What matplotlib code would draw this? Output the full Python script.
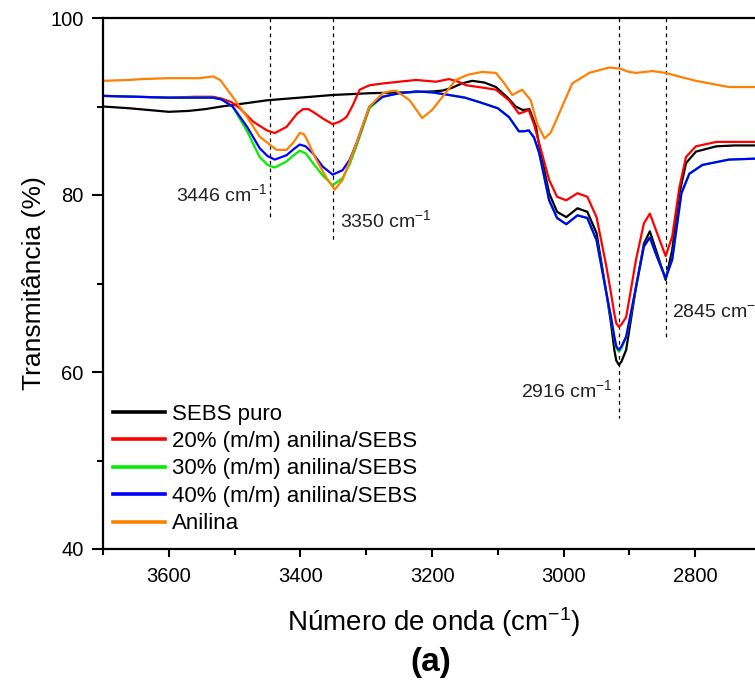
import matplotlib
matplotlib.use("Agg")
import matplotlib.pyplot as plt
from matplotlib.ticker import MultipleLocator

plt.rcParams['font.family'] = ['Liberation Sans', 'DejaVu Sans']
plt.rcParams['mathtext.default'] = 'regular'

# FTIR spectra: wavenumber (cm-1) and transmittance (%)
sebs_w = [3700, 3660, 3630, 3600, 3570, 3545, 3520, 3500, 3470, 3451, 3401, 3351, 3295, 3240,
          3200, 3184, 3170, 3155, 3139, 3120, 3103, 3085, 3073, 3062, 3052, 3042, 3037, 3022,
          3010, 2996, 2979, 2964, 2950, 2935, 2928, 2923, 2920, 2916, 2912, 2905, 2898, 2890,
          2878, 2869, 2858, 2845, 2835, 2824, 2814, 2799, 2768, 2740, 2711, 2690]
sebs_t = [90.0, 89.8, 89.6, 89.4, 89.5, 89.7, 90.0, 90.2, 90.5, 90.7, 91.0, 91.3, 91.5, 91.6,
          91.7, 91.8, 92.1, 92.6, 92.9, 92.7, 92.2, 91.0, 90.0, 89.6, 89.7, 87.7, 85.5, 80.2,
          78.1, 77.5, 78.5, 78.1, 75.7, 68.9, 65.5, 62.5, 61.3, 60.8, 61.2, 62.5, 65.8, 69.6,
          74.5, 75.9, 73.4, 70.4, 73.8, 80.2, 83.6, 84.9, 85.5, 85.6, 85.6, 85.6]

an20_w = [3700, 3650, 3600, 3560, 3533, 3520, 3505, 3492, 3472, 3451, 3439, 3421, 3405, 3396,
          3388, 3381, 3365, 3351, 3340, 3330, 3320, 3310, 3295, 3275, 3250, 3224, 3194, 3174,
          3160, 3148, 3120, 3103, 3083, 3068, 3060, 3053, 3045, 3037, 3022, 3010, 2996, 2979,
          2964, 2950, 2935, 2928, 2923, 2920, 2916, 2912, 2905, 2898, 2890, 2878, 2869, 2858,
          2845, 2835, 2824, 2814, 2799, 2768, 2711, 2690]
an20_t = [91.2, 91.1, 91.0, 91.1, 91.1, 90.9, 90.5, 89.8, 88.3, 87.3, 87.0, 87.7, 89.2, 89.7,
          89.7, 89.4, 88.6, 88.0, 88.3, 88.8, 90.2, 91.9, 92.4, 92.6, 92.8, 93.0, 92.8, 93.1,
          92.8, 92.4, 92.1, 91.9, 90.7, 89.2, 89.4, 89.6, 88.0, 85.8, 81.7, 79.8, 79.4, 80.2,
          79.8, 77.5, 71.9, 68.9, 66.6, 65.5, 65.1, 65.4, 66.2, 69.2, 72.7, 76.8, 77.9, 75.7,
          73.1, 75.3, 80.9, 84.3, 85.5, 86.0, 86.0, 86.0]

an30_w = [3700, 3650, 3600, 3560, 3533, 3520, 3503, 3481, 3462, 3450, 3439, 3421, 3410, 3401,
          3392, 3381, 3366, 3351, 3336, 3325, 3315, 3295, 3275, 3250, 3224, 3200, 3174, 3150,
          3124, 3100, 3083, 3068, 3060, 3053, 3045, 3037, 3022, 3010, 2996, 2979, 2964, 2950,
          2935, 2928, 2923, 2920, 2916, 2912, 2905, 2898, 2890, 2878, 2869, 2858, 2845, 2835,
          2821, 2809, 2789, 2749, 2711, 2690]
an30_t = [91.2, 91.1, 91.0, 91.0, 91.0, 90.8, 90.0, 87.2, 84.3, 83.4, 83.1, 83.8, 84.5, 85.0,
          84.7, 83.6, 82.2, 81.1, 81.9, 83.5, 85.5, 89.8, 91.1, 91.5, 91.7, 91.6, 91.3, 91.0,
          90.4, 89.8, 88.8, 87.2, 87.2, 87.3, 86.5, 84.7, 79.4, 77.4, 76.7, 77.7, 77.4, 74.9,
          68.9, 66.1, 63.9, 62.7, 62.3, 62.7, 63.9, 66.5, 69.6, 74.2, 75.2, 73.0, 70.6, 72.7,
          80.2, 82.4, 83.4, 84.0, 84.1, 84.1]

an40_w = [3700, 3650, 3600, 3560, 3533, 3520, 3503, 3481, 3462, 3450, 3439, 3421, 3410, 3401,
          3392, 3381, 3366, 3351, 3336, 3325, 3315, 3295, 3275, 3250, 3224, 3200, 3174, 3150,
          3124, 3100, 3083, 3068, 3060, 3053, 3045, 3037, 3022, 3010, 2996, 2979, 2964, 2950,
          2935, 2928, 2923, 2920, 2916, 2912, 2905, 2898, 2890, 2878, 2869, 2858, 2845, 2835,
          2821, 2809, 2789, 2749, 2711, 2690]
an40_t = [91.2, 91.1, 91.0, 91.0, 91.0, 90.8, 90.0, 87.7, 85.3, 84.4, 84.0, 84.5, 85.2, 85.7,
          85.5, 84.7, 83.2, 82.3, 82.8, 84.0, 85.8, 90.0, 91.1, 91.5, 91.7, 91.6, 91.3, 91.0,
          90.4, 89.8, 88.8, 87.2, 87.2, 87.3, 86.5, 84.7, 79.4, 77.4, 76.7, 77.7, 77.4, 74.9,
          68.9, 66.2, 64.0, 62.9, 62.5, 62.9, 64.0, 66.6, 69.6, 74.2, 75.2, 73.0, 70.6, 72.7,
          80.2, 82.4, 83.4, 84.0, 84.1, 84.1]

anil_w = [3700, 3660, 3640, 3600, 3553, 3533, 3522, 3503, 3481, 3462, 3445, 3436, 3421, 3410,
          3401, 3395, 3391, 3376, 3360, 3348, 3336, 3315, 3295, 3275, 3265, 3255, 3234, 3215,
          3200, 3184, 3164, 3145, 3124, 3103, 3090, 3078, 3063, 3050, 3040, 3029, 3020, 3011,
          2987, 2961, 2931, 2916, 2900, 2890, 2865, 2845, 2820, 2799, 2749, 2711, 2690]
anil_t = [92.9, 93.0, 93.1, 93.2, 93.2, 93.4, 93.0, 91.1, 88.8, 86.6, 85.6, 85.1, 85.1, 86.0,
          87.0, 86.9, 86.4, 84.0, 81.9, 80.6, 81.7, 85.8, 90.0, 91.5, 91.7, 91.8, 90.7, 88.7,
          89.6, 91.1, 93.0, 93.6, 93.9, 93.8, 92.6, 91.3, 91.9, 90.7, 88.0, 86.4, 87.0, 88.5,
          92.6, 93.8, 94.4, 94.3, 93.9, 93.8, 94.0, 93.8, 93.3, 92.9, 92.2, 92.2, 92.2]

series_labels = ['SEBS puro', '20% (m/m) anilina/SEBS', '30% (m/m) anilina/SEBS',
                 '40% (m/m) anilina/SEBS', 'Anilina']
series_colors = ['#000000', '#ff0000', '#00ee00', '#0000ff', '#ff8000']

# marked bands and how far down their guide lines reach
band_pos = [3446, 3350, 2916, 2845]
band_line_bottom = [77.2, 74.6, 54.8, 63.6]
band_text_xy = [(3450, 80.1, 'right'), (3340, 77.2, 'left'),
                (2925, 58.0, 'right'), (2835, 67.0, 'left')]

W, H = 755, 682
fig = plt.figure(figsize=(W / 100, H / 100), dpi=100)
# the frame runs past the right edge of the figure
ax = fig.add_axes([103 / W, (H - 549) / H, (765 - 103) / W, (549 - 18) / H])

xs = [sebs_w, an20_w, an30_w, an40_w, anil_w]
ys = [sebs_t, an20_t, an30_t, an40_t, anil_t]
for x, y, lab, c in zip(xs, ys, series_labels, series_colors):
    ax.plot(x, y, color=c, lw=1.6, label=lab, solid_joinstyle='round')

for pos, bot, (tx, ty, ha) in zip(band_pos, band_line_bottom, band_text_xy):
    ax.plot([pos, pos], [100, bot], color='black', lw=0.9, linestyle=(0, (3, 3)), zorder=1)
    ax.text(tx, ty, f'{pos} cm$^{{-1}}$', ha=ha, va='center', fontsize=14, color='#222222')

ax.set_xlim(3700, 2694)
ax.set_ylim(40, 100)
ax.xaxis.set_major_locator(MultipleLocator(200))
ax.xaxis.set_minor_locator(MultipleLocator(100))
ax.yaxis.set_major_locator(MultipleLocator(20))
ax.yaxis.set_minor_locator(MultipleLocator(10))
ax.tick_params(axis='both', which='major', direction='out', width=1.5, labelsize=14.5)
ax.tick_params(axis='x', which='major', length=6, pad=7)
ax.tick_params(axis='y', which='major', length=8, pad=6)
ax.tick_params(axis='both', which='minor', direction='out', width=1.5, length=4)
for s in ax.spines.values():
    s.set_linewidth(1.6)

ax.set_xlabel('Número de onda (cm$^{-1}$)', fontsize=20, labelpad=14)
ax.set_ylabel('Transmitância (%)', fontsize=19, labelpad=3)

leg = ax.legend(loc='upper left', bbox_to_anchor=(0.0147, 0.274), frameon=False,
                fontsize=16, handlelength=2.36, handletextpad=0.32, labelspacing=0.29,
                borderpad=0, borderaxespad=0)
for h in leg.get_lines():
    h.set_linewidth(2.6)

fig.text(431 / W, 1 - 662 / H, '(a)', ha='center', va='center', fontsize=24,
         fontweight='bold')

fig.savefig('out.png', dpi=100)
